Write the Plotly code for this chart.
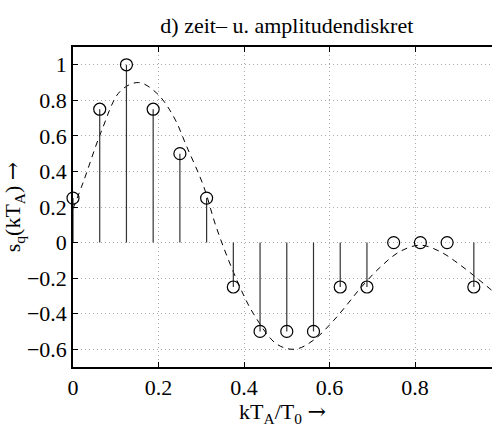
import plotly.graph_objects as go

# sample instants k*T_A/T_0 and quantized values
k_t = [0, 0.0625, 0.125, 0.1875, 0.25, 0.3125, 0.375, 0.4375, 0.5,
       0.5625, 0.625, 0.6875, 0.75, 0.8125, 0.875, 0.9375]
s_q = [0.25, 0.75, 1.0, 0.75, 0.5, 0.25, -0.25, -0.5, -0.5,
       -0.5, -0.25, -0.25, 0.0, 0.0, 0.0, -0.25]

# continuous signal
t_cont = [0.0, 0.024, 0.067, 0.110, 0.153, 0.196, 0.235, 0.266, 0.305, 0.336,
          0.383, 0.422, 0.476, 0.519, 0.562, 0.609, 0.644, 0.671, 0.718,
          0.765, 0.812, 0.858, 0.905, 0.96, 0.985]
s_cont = [0.19, 0.34, 0.63, 0.85, 0.90, 0.84, 0.71, 0.54, 0.32, 0.08,
          -0.21, -0.40, -0.57, -0.60, -0.55, -0.44, -0.34, -0.26, -0.14,
          -0.05, -0.015, -0.05, -0.125, -0.23, -0.28]

x_ticks = [0, 0.2, 0.4, 0.6, 0.8]
y_ticks = [-0.6, -0.4, -0.2, 0, 0.2, 0.4, 0.6, 0.8, 1]

stem_x, stem_y = [], []
for xv, yv in zip(k_t, s_q):
    stem_x += [xv, xv, None]
    stem_y += [0, yv, None]

fig = go.Figure()
fig.add_trace(go.Scatter(x=t_cont, y=s_cont, mode="lines", line_shape="spline",
                         line=dict(color="black", width=1, dash="6px,5px"),
                         hoverinfo="skip"))
fig.add_trace(go.Scatter(x=stem_x, y=stem_y, mode="lines",
                         line=dict(color="#333333", width=1.2)))
fig.add_trace(go.Scatter(x=k_t, y=s_q, mode="markers", cliponaxis=False,
                         marker=dict(symbol="circle-open", size=12,
                                     color="black", line=dict(width=1.2))))

font = "Liberation Serif"
arrow = '<span style="font-family:DejaVu Serif">\u2192</span>'
fig.update_layout(
    width=492, height=427,
    margin=dict(l=73, r=0, t=47, b=60),
    paper_bgcolor="white", plot_bgcolor="white",
    showlegend=False,
    font=dict(family=font, size=22, color="black"),
    title=dict(text="d) zeit\u2013 u. amplitudendiskret", x=0.583, xanchor="center",
               y=0.941, yanchor="middle", font=dict(family=font, size=22)),
)
fig.update_xaxes(range=[0, 0.98], tickvals=x_ticks,
                 ticktext=[f'<span style="font-family:Liberation Serif">{v}</span>' for v in x_ticks],
                 ticks="inside", ticklen=5, tickcolor="black",
                 showline=True, linecolor="black", linewidth=1.5, mirror="ticks",
                 showgrid=True, gridcolor="#aaaaaa", griddash="1px,3px", gridwidth=1,
                 zeroline=False, tickfont=dict(family=font, size=22, color="black"),
                 title=dict(text="kT<sub>A</sub>/T<sub>0</sub> " + arrow, standoff=2,
                            font=dict(family=font, size=22)))
fig.update_yaxes(range=[-0.7, 1.1], tickvals=y_ticks,
                 ticktext=[f'<span style="font-family:Liberation Serif">{("\u2212" + str(abs(v))) if v < 0 else str(v)}</span>' for v in y_ticks],
                 ticks="inside", ticklen=5, tickcolor="black",
                 showline=True, linecolor="black", linewidth=1.5,
                 showgrid=True, gridcolor="#aaaaaa", griddash="1px,3px", gridwidth=1,
                 zeroline=False, tickfont=dict(family=font, size=22, color="black"),
                 title=dict(text="s<sub>q</sub>(kT<sub>A</sub>) " + arrow, standoff=2,
                            font=dict(family=font, size=22)))

fig.write_html("out.html")
